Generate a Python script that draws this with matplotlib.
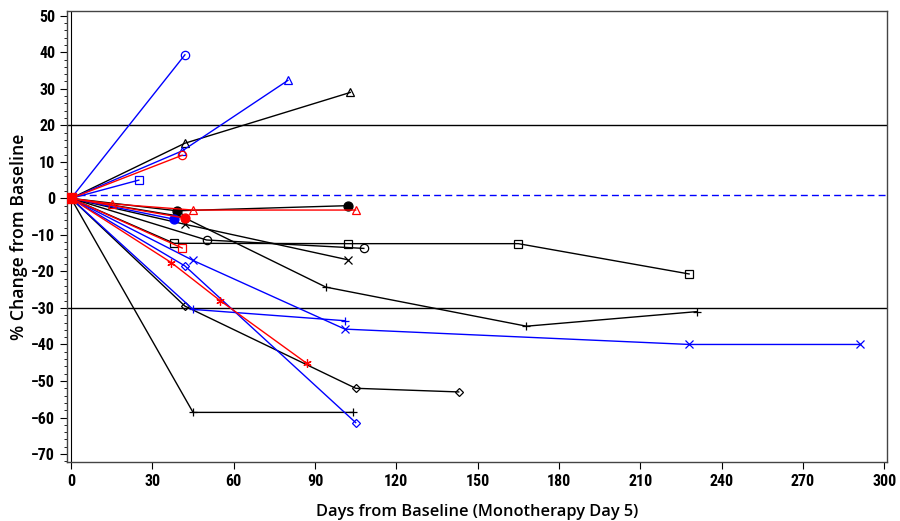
import matplotlib
matplotlib.use("Agg")
import matplotlib.pyplot as plt
from matplotlib.ticker import MultipleLocator

BLUE = "#0000ff"
RED = "#ff0000"
BLACK = "#000000"

# ---- data: (days from baseline, % change) per subject ----
blue_circle_days = [0, 42]
blue_circle_pct = [0, 39.3]
blue_triangle_days = [0, 41, 80]
blue_triangle_pct = [0, 13, 32.3]
blue_square_days = [0, 25]
blue_square_pct = [0, 5.0]
blue_dot_days = [0, 38]
blue_dot_pct = [0, -5.7]
blue_plus_days = [0, 45, 101]
blue_plus_pct = [0, -30.4, -33.5]
blue_x_days = [0, 45, 101, 228, 291]
blue_x_pct = [0, -17, -35.8, -40, -40]
blue_diamond_days = [0, 42, 105]
blue_diamond_pct = [0, -18.5, -61.4]

black_triangle_days = [0, 42, 103]
black_triangle_pct = [0, 15.1, 29.0]
black_dot_days = [0, 39, 102]
black_dot_pct = [0, -3.4, -2.0]
black_x_days = [0, 42, 102]
black_x_pct = [0, -7.1, -16.8]
black_square_days = [0, 38, 102, 165, 228]
black_square_pct = [0, -12.3, -12.4, -12.4, -20.7]
black_circle_days = [0, 50, 108]
black_circle_pct = [0, -11.4, -13.7]
black_plus_days = [0, 41, 94, 168, 231]
black_plus_pct = [0, -5.0, -24.3, -35.0, -31.0]
black_diamond_days = [0, 42, 105, 143]
black_diamond_pct = [0, -29.5, -52.0, -53.0]
black_plus2_days = [0, 45, 104]
black_plus2_pct = [0, -58.6, -58.6]

red_circle_days = [0, 41]
red_circle_pct = [0, 11.8]
red_triangle_days = [0, 15, 45, 105]
red_triangle_pct = [0, -1.5, -3.2, -3.2]
red_dot_days = [0, 42]
red_dot_pct = [0, -5.4]
red_square_days = [0, 41]
red_square_pct = [0, -13.6]
red_star_days = [0, 37, 55, 87]
red_star_pct = [0, -17.6, -28.0, -45.2]

ref_lines = [20, -30]
mean_line = 0.8
x_ticks = list(range(0, 301, 30))
y_ticks = list(range(-70, 51, 10))

series = [
    (black_triangle_days, black_triangle_pct, BLACK, "^", False),
    (black_dot_days, black_dot_pct, BLACK, "o", True),
    (black_x_days, black_x_pct, BLACK, "x", False),
    (black_square_days, black_square_pct, BLACK, "s", False),
    (black_circle_days, black_circle_pct, BLACK, "o", False),
    (black_plus_days, black_plus_pct, BLACK, "+", False),
    (black_diamond_days, black_diamond_pct, BLACK, "D", False),
    (black_plus2_days, black_plus2_pct, BLACK, "+", False),
    (blue_circle_days, blue_circle_pct, BLUE, "o", False),
    (blue_triangle_days, blue_triangle_pct, BLUE, "^", False),
    (blue_square_days, blue_square_pct, BLUE, "s", False),
    (blue_dot_days, blue_dot_pct, BLUE, "o", True),
    (blue_plus_days, blue_plus_pct, BLUE, "+", False),
    (blue_x_days, blue_x_pct, BLUE, "x", False),
    (blue_diamond_days, blue_diamond_pct, BLUE, "D", False),
    (red_circle_days, red_circle_pct, RED, "o", False),
    (red_triangle_days, red_triangle_pct, RED, "^", False),
    (red_dot_days, red_dot_pct, RED, "o", True),
    (red_star_days, red_star_pct, RED, (6, 2, 0), False),
    (red_square_days, red_square_pct, RED, "s", False),
]

TICK_FONT = ["Liberation Sans Narrow", "DejaVu Sans Condensed", "Roboto Condensed",
             "Liberation Sans"]

fig = plt.figure(figsize=(9, 5.21), dpi=100)
ax = fig.add_axes([67 / 900, 1 - 461.7 / 521, (887 - 67) / 900, (461.7 - 11) / 521])

for y in ref_lines:
    ax.axhline(y, color=BLACK, lw=1.0, zorder=1)
ax.axhline(mean_line, color=BLUE, lw=1.0, ls=(0, (5, 3)), zorder=1)
ax.axvline(0, color=BLACK, lw=0.8, zorder=1)

for d, p, c, m, filled in series:
    size = 6
    if m == "D":
        size = 4.5
    if m == "o" and filled:
        size = 6.5
    ax.plot(d, p, color=c, lw=1.0, marker=m, ms=size,
            mfc=c if filled else "none", mec=c, mew=0.9, zorder=3)

# baseline marker drawn on top
ax.plot([red_square_days[0]], [red_square_pct[0]], marker="s", ms=7,
        color=RED, mfc=RED, ls="none", zorder=5)

ax.set_xlim(-1.5, 301)
ax.set_ylim(-72.1, 51.3)
ax.set_xticks(x_ticks)
ax.set_yticks(y_ticks)
ax.yaxis.set_minor_locator(MultipleLocator(2))
ax.tick_params(axis="both", which="major", direction="out", length=5, width=0.8,
               labelsize=11.5)
ax.tick_params(axis="y", which="minor", direction="out", length=2.5, width=0.6)
for lab in ax.get_xticklabels() + ax.get_yticklabels():
    lab.set_fontweight("bold")
    lab.set_fontfamily(TICK_FONT)
for s in ax.spines.values():
    s.set_color("#444444")
    s.set_linewidth(1.0)

ax.set_xlabel("Days from Baseline (Monotherapy Day 5)", fontsize=11.8,
              fontfamily="Open Sans", fontweight="semibold", labelpad=11)
ax.set_ylabel("% Change from Baseline", fontsize=12.7,
              fontfamily="Open Sans", fontweight="semibold", labelpad=2)

fig.savefig("out.png", dpi=100)
